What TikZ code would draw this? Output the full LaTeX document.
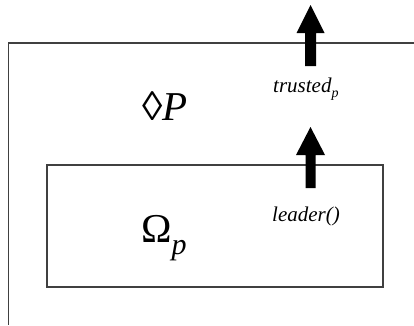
\documentclass[tikz,border=0pt]{standalone}
\usepackage{fontspec}
\setmainfont{Liberation Serif}
\begin{document}
\begin{tikzpicture}[x=1pt,y=1pt,
  frame/.style={draw=black!75,line width=1.1pt},
  bigarrow/.style={fill=black,draw=none},
  lbl/.style={inner sep=0pt,anchor=base west,font=\fontsize{21}{24}\selectfont\itshape},
  big/.style={inner sep=0pt,anchor=base west,font=\fontsize{41}{46}\selectfont}]
\useasboundingbox (0,0) rectangle (414,325);
% outer frame (top and left only)
\coordinate (otr) at (414,282);
\coordinate (otl) at (8.5,282);
\coordinate (obl) at (8.5,0);
\draw[frame] (otr) -- (otl) -- (obl);
% inner box
\node[frame,minimum width=336pt,minimum height=122pt,inner sep=0pt] (inner) at (215,99) {};
% arrows
\fill[bigarrow] (310.5,320) -- (324.5,292) -- (316,292) -- (316,259) -- (305,259) -- (305,292) -- (296.5,292) -- cycle;
\fill[bigarrow] (310.5,198) -- (325,170) -- (315.5,170) -- (315.5,137) -- (305.5,137) -- (305.5,170) -- (296,170) -- cycle;
% labels
\node[lbl] (trusted) at (273,233) {trusted\raisebox{-5pt}{\fontsize{14}{16}\selectfont p}};
\node[lbl] (leader) at (272,104) {leader()};
\node[big] (dp) at (142,205) {◊\textit{P}};
\node[big] (om) at (141,83) {Ω\raisebox{-12pt}{\fontsize{30}{34}\selectfont\itshape p}};
\end{tikzpicture}
\end{document}
